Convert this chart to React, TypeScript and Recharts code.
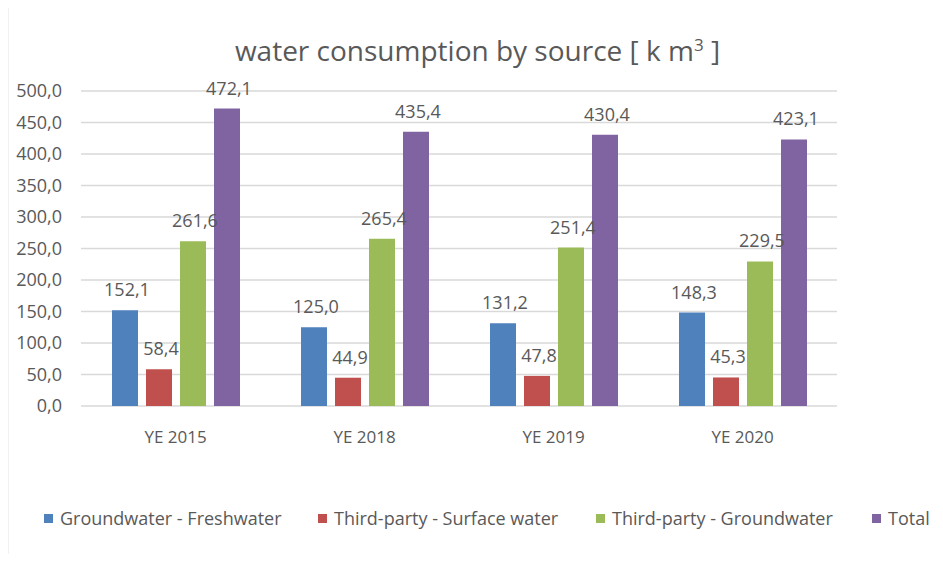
import React from "react";
import { BarChart, Bar, XAxis, YAxis, CartesianGrid, LabelList, Legend } from "recharts";

const categories = ["YE 2015", "YE 2018", "YE 2019", "YE 2020"];
const groundwaterFresh = [152.1, 125.0, 131.2, 148.3];
const thirdPartySurface = [58.4, 44.9, 47.8, 45.3];
const thirdPartyGround = [261.6, 265.4, 251.4, 229.5];
const totals = [472.1, 435.4, 430.4, 423.1];
const yTicks = [0, 50, 100, 150, 200, 250, 300, 350, 400, 450, 500];

const seriesNames = [
  "Groundwater - Freshwater",
  "Third-party - Surface water",
  "Third-party - Groundwater",
  "Total",
];
const colors = ["#4f81bd", "#c0504d", "#9bbb59", "#8064a2"];

const data = categories.map((c, i) => ({
  name: c,
  s0: groundwaterFresh[i],
  s1: thirdPartySurface[i],
  s2: thirdPartyGround[i],
  s3: totals[i],
}));

const FONT = "'Open Sans', sans-serif";
const TXT = "#595959";
const fmt = (v: number) => v.toFixed(1).replace(".", ",");

const ValueLabel = (props: any) => {
  const { x, y, width, value } = props;
  return (
    <text x={x + width / 2 + 2} y={y - 14} textAnchor="middle" fill={TXT} fontSize={18} fontFamily={FONT}>
      {fmt(value)}
    </text>
  );
};

const YTick = (props: any) => {
  const { y, payload } = props;
  return (
    <text x={62} y={y + 6} textAnchor="end" fill={TXT} fontSize={18} fontFamily={FONT}>
      {fmt(payload.value)}
    </text>
  );
};

const XTick = (props: any) => {
  const { x, payload } = props;
  return (
    <text x={x} y={443} textAnchor="middle" fill={TXT} fontSize={17} fontFamily={FONT}>
      {payload.value}
    </text>
  );
};

const LegendContent = (props: any) => {
  const { payload } = props;
  const xs = [44, 318, 596, 872];
  const items = [...(payload || [])].sort(
    (a: any, b: any) => seriesNames.indexOf(a.value) - seriesNames.indexOf(b.value)
  );
  return (
    <div style={{ position: "relative", width: 943, height: 30 }}>
      {items.map((p: any) => {
        const idx = seriesNames.indexOf(p.value);
        return (
          <div
            key={p.value}
            style={{
              position: "absolute",
              left: xs[idx],
              top: 0,
              display: "flex",
              alignItems: "center",
              whiteSpace: "nowrap",
              fontFamily: FONT,
              fontSize: 18,
              color: TXT,
            }}
          >
            <span style={{ display: "inline-block", width: 9, height: 9, background: p.color, marginRight: 7 }} />
            {p.value}
          </div>
        );
      })}
    </div>
  );
};

export default function App() {
  return (
    <div style={{ position: "relative", margin: -8, width: 943, height: 562, overflow: "hidden", background: "#fff" }}>
      <div
        style={{
          position: "absolute",
          left: 0,
          width: 943,
          top: 32,
          textAlign: "center",
          fontFamily: FONT,
          fontSize: 28,
          lineHeight: "36px",
          color: TXT,
          paddingLeft: 12,
          boxSizing: "border-box",
        }}
      >
        water consumption by source [ k m<sup style={{ fontSize: 17, lineHeight: 0 }}>3</sup> ]
      </div>
      <div style={{ position: "absolute", left: 0, top: 0 }}>
        <BarChart
          width={943}
          height={562}
          data={data}
          margin={{ top: 91, right: 106, left: 0, bottom: 40 }}
          barCategoryGap="16%"
          barGap={8}
        >
          <CartesianGrid vertical={false} stroke="#d9d9d9" strokeWidth={1.5} />
          <YAxis
            width={81}
            domain={[0, 500]}
            ticks={yTicks}
            axisLine={false}
            tickLine={false}
            tick={<YTick />}
            interval={0}
          />
          <XAxis dataKey="name" height={86} axisLine={false} tickLine={false} tick={<XTick />} />
          <Legend
            verticalAlign="bottom"
            height={30}
            content={<LegendContent />}
            wrapperStyle={{ left: 0, top: 506, width: 943 }}
          />
          {["s0", "s1", "s2", "s3"].map((k, i) => (
            <Bar key={k} dataKey={k} name={seriesNames[i]} fill={colors[i]} barSize={26} isAnimationActive={false}>
              <LabelList dataKey={k} content={<ValueLabel />} />
            </Bar>
          ))}
        </BarChart>
      </div>
      <svg
        width={943}
        height={562}
        style={{ position: "absolute", left: 0, top: 0, pointerEvents: "none", zIndex: 10 }}
      >
        <line x1={7} y1={6} x2={7} y2={562} stroke="#c8c8c8" strokeWidth={2.5} />
        <line x1={6} y1={6} x2={943} y2={6} stroke="#c8c8c8" strokeWidth={2.5} />
      </svg>
    </div>
  );
}
